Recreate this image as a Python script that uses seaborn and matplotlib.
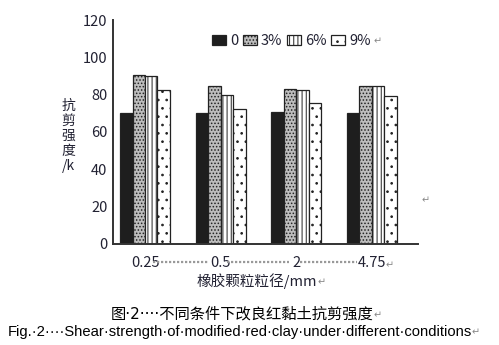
import matplotlib
matplotlib.use("Agg")
import matplotlib.pyplot as plt
import seaborn as sns
import pandas as pd

sizes = ["0.25", "0.5", "2", "4.75"]
contents = ["0", "3%", "6%", "9%"]
v0 = [70.0, 70.0, 70.5, 70.0]
v3 = [90.8, 84.8, 83.2, 84.8]
v6 = [89.8, 80.0, 82.6, 84.8]
v9 = [82.5, 72.2, 75.6, 79.4]
yticks = [0, 20, 40, 60, 80, 100, 120]

rows = []
for c, vals in zip(contents, [v0, v3, v6, v9]):
    for s, v in zip(sizes, vals):
        rows.append({"size": s, "content": c, "value": v})
df = pd.DataFrame(rows)

sns.set_theme(style="white")
plt.rcParams["font.family"] = ["Noto Sans CJK SC", "DejaVu Sans"]
plt.rcParams["hatch.linewidth"] = 0.7

fig = plt.figure(figsize=(4.99, 3.45), dpi=100)
ax = fig.add_axes([0.2265, 0.2928, 0.611, 0.6492])

sns.barplot(data=df, x="size", y="value", hue="content", order=sizes,
            hue_order=contents, ax=ax, width=0.66, gap=0,
            palette=["#1e1e1e", "#bdbdbd", "white", "white"],
            edgecolor="#222222", linewidth=0.9, legend=False)

hatches = [None, ".....", "||||", ".."]
for cont, h in zip(ax.containers, hatches):
    for p in cont:
        if h:
            p.set_hatch(h)

ax.set_ylim(0, 120)
ax.set_xlim(-0.423, 3.61)
ax.set_yticks(yticks)
ax.set_yticklabels([str(t) for t in yticks], fontsize=10.5, color="#222233")
ax.set_xticks(range(len(sizes)))
ax.set_xticklabels(sizes, fontsize=10.5, color="#222233")
ax.tick_params(axis="y", direction="in", length=6, width=1.2, color="#333333", pad=4)
ax.tick_params(axis="x", length=0, pad=9)
ax.set_xlabel("")
ax.set_ylabel("")
sns.despine(ax=ax)
for sp in ["left", "bottom"]:
    ax.spines[sp].set_linewidth(1.4)
    ax.spines[sp].set_color("#333333")

# dotted separators between tick labels
trans = ax.get_xaxis_transform()
for x0, x1 in [(0.11, 0.84), (1.09, 1.9), (2.05, 2.8)]:
    ax.plot([x0, x1], [-0.08, -0.08], transform=trans, clip_on=False,
            color="#999999", linestyle=(0, (1, 0.8)), linewidth=1.6)

grey = "#888888"
last_tick = ax.get_xticklabels()[-1]
ax.annotate("↵", xy=(1, 0), xycoords=last_tick, fontsize=7, color=grey,
            ha="left", va="bottom", family=["DejaVu Sans"])

# legend
handles = [cont.patches[0] for cont in ax.containers]
leg = ax.legend(handles, contents, loc="upper left", bbox_to_anchor=(0.295, 0.975),
                ncol=4, frameon=False, fontsize=10.5, handlelength=1.0,
                handleheight=0.7, handletextpad=0.25, columnspacing=0.3,
                borderaxespad=0.2)
for t in leg.get_texts():
    t.set_color("#222233")
fig.text(0.748, 0.88, "↵", fontsize=7, color=grey, ha="left", va="center",
         family=["DejaVu Sans"])

# y label (vertical characters)
fig.text(0.137, 0.605, "抗\n剪\n强\n度\n/k", fontsize=10, color="#222233",
         ha="center", va="center", linespacing=1.1)

# x label
xl = fig.text(0.515, 0.185, "橡胶颗粒粒径/mm", fontsize=10.5, color="#222233",
              ha="center", va="center")
fig.text(0.853, 0.42, "↵", fontsize=7, color=grey, ha="center", va="center",
         family=["DejaVu Sans"])

# captions
c1 = fig.text(0.486, 0.09, "图·2····不同条件下改良红黏土抗剪强度", fontsize=11,
              color="black", ha="center", va="center",
              family=["DejaVu Sans", "Noto Sans CJK SC"])
c2 = fig.text(0.48, 0.038,
              "Fig.·2····Shear·strength·of·modified·red·clay·under·different·conditions",
              fontsize=10.6, color="black", ha="center", va="center",
              family=["Liberation Sans", "DejaVu Sans"])
for t in (xl, c1, c2):
    ax.annotate("↵", xy=(1, 0.1), xycoords=t, fontsize=7, color=grey,
                ha="left", va="bottom", family=["DejaVu Sans"],
                annotation_clip=False)

fig.savefig("out.png", dpi=100, facecolor="white")
